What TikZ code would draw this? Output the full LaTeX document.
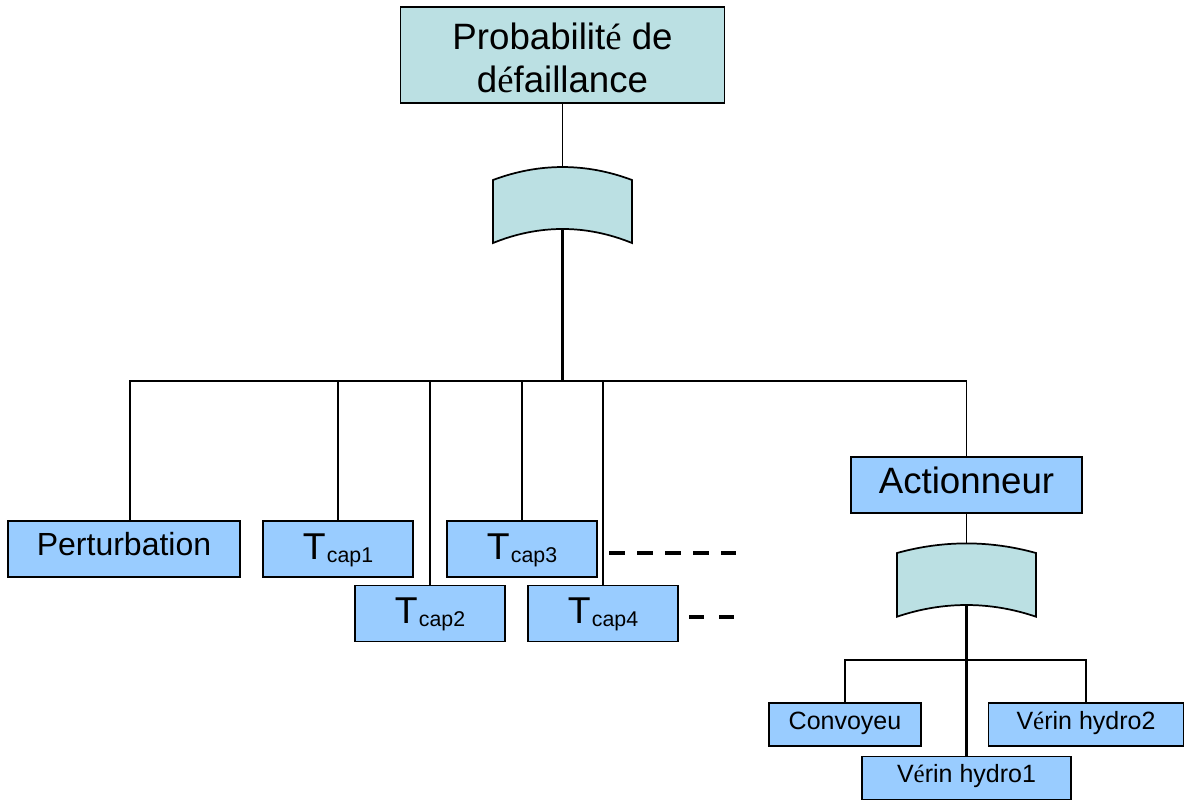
\documentclass[tikz,border=0pt]{standalone}
\usepackage{fontspec}
\setmainfont{Liberation Sans}
\newfontfamily\serifE{Liberation Serif}
\newcommand\eacc{{\serifE é}}
\newcommand\tcap[1]{T\kern1pt\raisebox{-2.5pt}{\fontsize{16}{16}\selectfont cap#1}}
\definecolor{tealfill}{HTML}{BBE0E3}
\definecolor{bluefill}{HTML}{99CCFF}
\begin{document}
\begin{tikzpicture}[x=0.75pt,y=-0.75pt,
  box/.style={draw=black, line width=1.3pt, fill=bluefill, inner sep=0pt, outer sep=0pt, align=center},
  topbox/.style={box, fill=tealfill, minimum width=243pt, minimum height=72pt, font=\fontsize{27.5}{32.25}\selectfont},
  pertbox/.style={box, minimum width=174pt, minimum height=42pt, font=\fontsize{24}{28}\selectfont, text height=16pt, text depth=7pt},
  tbox/.style={box, minimum width=112.5pt, minimum height=42pt, font=\fontsize{28}{30}\selectfont, text height=20pt, text depth=5pt},
  actbox/.style={box, minimum width=173.25pt, minimum height=42pt, font=\fontsize{27.5}{30}\selectfont, text height=19pt, text depth=6pt},
  smallbox/.style={box, minimum height=32.25pt, font=\fontsize{18.75}{22}\selectfont, text height=13pt, text depth=6.25pt},
  gate/.style={draw=black, line width=1.3pt, fill=tealfill},
  conn/.style={line width=1.4pt},
  mainconn/.style={line width=1.8pt},
  dashline/.style={line width=3pt}
]
\useasboundingbox (0,0) rectangle (1185,801);

% top event
\node[topbox] (top) at (562.5,55) {\rule{0pt}{24.5pt}Probabilit\eacc{} de\\d\eacc faillance};

% gate 1
\draw[gate] (493,180) .. controls (539,162.7) and (586,162.7) .. (632,180)
  -- (632,243) .. controls (586,224.3) and (539,224.3) .. (493,243) -- cycle;
\coordinate (g1t) at (562.5,167);
\coordinate (g1b) at (562.5,229.5);
\coordinate (bus) at (562.5,381);

% level 1 nodes
\node[pertbox] (pert) at (124,549) {Perturbation};
\node[tbox] (t1) at (338,549) {\tcap{1}};
\node[tbox] (t3) at (522,549) {\tcap{3}};
\node[tbox] (t2) at (430,613.5) {\tcap{2}};
\node[tbox] (t4) at (603,613.5) {\tcap{4}};
\node[actbox] (act) at (966.5,484.7) {Actionneur};

% connectors level 1
\draw[conn] (top.south) -- (g1t);
\draw[mainconn] (g1b) -- (bus);
\draw[conn] ([xshift=4.5pt]pert.north) |- (bus) -| (act.north);
\draw[conn] (t1.north) |- (bus);
\draw[conn] (t2.north) |- (bus);
\draw[conn] (t3.north) |- (bus);
\draw[conn] (t4.north) |- (bus);

% dashes
\coordinate (da) at (609,552.7);
\coordinate (db) at (736,552.7);
\coordinate (dc) at (689,617.3);
\coordinate (dd) at (734,617.3);
\draw[dashline, dash pattern=on 11.8pt off 9.2pt] (da) -- (db);
\draw[dashline, dash pattern=on 11.25pt off 11.25pt] (dc) -- (dd);

% gate 2
\draw[gate] (897,553) .. controls (943,540.2) and (990,540.2) .. (1036,553)
  -- (1036,616.7) .. controls (990,601.1) and (943,601.1) .. (897,616.7) -- cycle;
\coordinate (g2t) at (966.5,542.7);
\coordinate (g2b) at (966.5,605);
\coordinate (bus2) at (966.5,660);

% level 2 nodes
\node[smallbox, minimum width=114pt] (conv) at (845,724.7) {Convoyeu};
\node[smallbox, minimum width=146.25pt] (h2) at (1086,724.7) {V\eacc rin hydro2};
\node[smallbox, minimum width=156.75pt] (h1) at (966.5,778) {V\eacc rin hydro1};

% connectors level 2
\draw[conn] (act.south) -- (g2t);
\draw[mainconn] (g2b) -- (h1.north);
\draw[conn] (conv.north) |- (bus2) -| (h2.north);
\end{tikzpicture}
\end{document}
